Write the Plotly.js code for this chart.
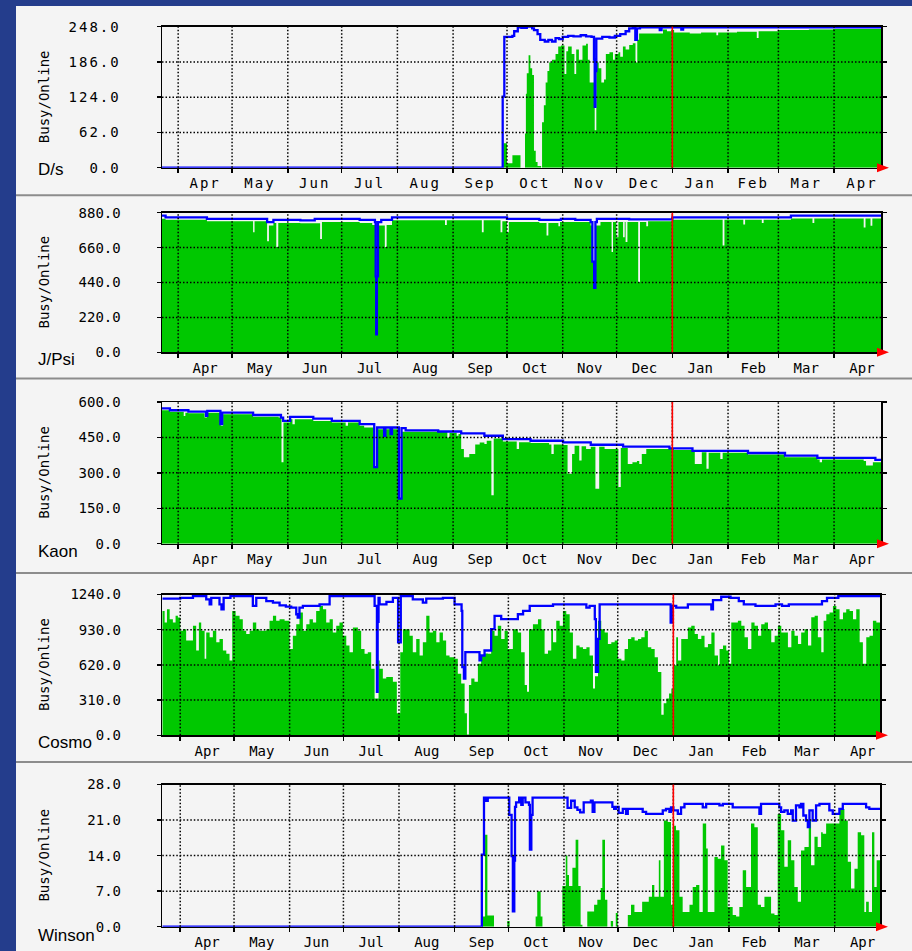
<!DOCTYPE html>
<html>
<head>
<meta charset="utf-8">
<script src="https://cdn.plot.ly/plotly-3.0.1.min.js"></script>
<style>
html,body{margin:0;padding:0;background:#243d8c;}
#chart{width:912px;height:951px;}
.xtick text,.ytick text{letter-spacing:2px;}
</style>
</head>
<body>
<div id="chart"></div>
<script>
// ---- data: day offsets from 2010-03-23 ----
const dsBusyDays = [0,190,192,195,199.5,202,202.5,203,204,205,206,207,208,209,211,211.5,212.5,213.5,214.5,215.5,217,219,220.5,222,224,225,226,228,229.5,230.5,232,234,236,237,238,240.8,241.7,243,244.5,246,247,249,251,252,254,255,256.5,258,260,262,263.5,264.5,265.5,278.8,281,283.6,285,293.7,300,308.5,309.5,320,331,332,342.8,360,373.4,400.8];
const dsBusyVals = [0,43,8,22,0,60,130,166,198,175,163,30,10,3,0,80,110,150,170,185,190,200,213,215,165,205,213,200,165,208,190,215,218,190,150,66,185,175,150,155,200,203,190,200,203,195,213,208,216,219,185,225,236,243,240,242,238,236,238,233,238,239,228,240,242,243,244,242];
const dsOnlineDays = [0,189.3,189.6,190.5,195,196,198,200,203,206,207,209,210.5,213,215,217,219,221,223,226,229,233,236,239,240.4,240.8,241.2,241.7,245,249,252,255,258,260,262,263.4,264.3,266,277,278,289,290,400.8];
const dsOnlineVals = [0,0,125,230,232,240,247,246,248,245,242,235,225,222,225,222,228,226,230,232,231,233,231,230,190,107,170,227,230,229,232,235,240,245,246,225,245,247,242,247,243,247,247];

const jpBusyDays = [0,2,25,50.7,51.5,58.5,59.5,62,63.6,64.7,77,88,89,110,117,118.9,119.2,119.6,120.2,124,125,128,157.5,158.5,178,179,188.4,189.4,192,193,210,214,215,220.6,221.5,238.5,239.5,240.5,241.2,244,250.2,251,252.8,254,256.6,257.5,258,259,265,266,269.5,270.5,284,312,313,323.5,324.5,333.8,334.8,350,362,363,390.5,391.5,394.3,395.3,400.8];
const jpBusyVals = [842,835,826,757,826,700,800,815,664,815,813,715,822,815,803,479,113,479,800,664,803,833,803,833,757,833,757,826,757,822,815,736,815,795,822,800,572,407,800,822,633,822,725,822,725,822,695,822,442,822,795,826,836,674,836,805,836,815,836,843,815,843,787,843,798,843,843];
const jpOnlineDays = [0,2,25,58.5,62,77,85,110,118.5,118.9,119.2,119.6,120.2,122,128,192,210,222,230,238.5,239.5,240.5,241.2,242,260,284,347,350,400.8];
const jpOnlineVals = [861,851,841,820,835,831,841,835,820,479,113,479,820,835,851,841,835,841,835,820,572,407,820,841,838,851,851,861,861];

const kaBusyDays = [0,4.4,12.1,13,14.7,23.7,25,32.7,34,50.7,64.9,66.5,67.6,71.3,72.6,73.9,84.2,94.5,102.2,103.5,110,112.5,118.1,119.7,123.6,124.3,127.2,128,131.8,133.3,158.8,160,164,165,166.5,168,171,174.3,176.8,179.4,180.7,183.3,184.6,189.7,197.4,198.7,205.1,215.4,216.7,218,223.2,225.7,228.2,229.6,232.2,233.5,236,238.6,241.2,243.3,246.3,254,255.3,259.2,261.8,264.3,265.6,267,269.5,284.9,296.5,300.4,303,304.2,310.7,312,326.1,346.7,364.7,366,367.3,390.5,391.8,395.6,400.8];
const kaBusyVals = [565,559,541,555,552,534,555,499,548,538,534,345,513,527,506,527,520,513,499,513,499,492,324,485,457,485,460,485,191,474,450,470,457,465,401,366,380,420,429,422,436,205,445,433,401,430,426,420,380,420,418,296,380,415,352,413,401,410,233,410,401,240,405,338,345,350,338,380,401,397,338,387,317,385,359,385,378,366,356,345,356,350,331,345,345];
const kaOnlineDays = [0,4.4,14.7,24.5,25.2,32.5,33.5,50.7,66.2,67.4,71.3,84.2,94.5,110,117.6,118.1,119.7,122.8,123.6,124.3,127.2,128,131.8,133.3,135.6,153.7,166.5,179.4,189.7,205.1,223.2,238.6,256.6,282.4,295.2,326.1,346.7,364.7,397,400.8];
const kaOnlineVals = [573,565,559,541,562,506,555,545,534,520,537,530,520,506,506,324,492,492,457,492,464,492,191,489,480,475,467,457,443,436,429,419,411,404,393,384,373,363,355,355];

const coBusyDays = [-1,0.3,1.6,3.1,4.9,6.4,7.7,9,10.5,12.3,16.1,17.9,19.4,20.7,22.6,23.5,25.4,27.2,29.1,30.9,32.8,34.7,36.5,38,39.9,42.1,43.9,45.8,47.7,49.5,51.4,53.2,57,58.8,60.7,62.5,64.4,67.2,70,71.8,73.7,75.5,77.4,79.3,81.1,83,84.8,86.7,88.6,90.4,92.3,94.1,96,97.8,99.7,101.6,103.4,105.3,108.1,109.9,111.8,113.6,115.5,117.4,119.6,120.2,122,123.9,127.6,129.8,131.7,133.2,136.9,138.7,140.6,142.5,144.3,146.2,148,149.9,151.8,153.6,155.5,157.3,159.2,162,163.8,165.7,167.6,168.9,170,171.3,173.1,175,176.8,178.7,180.6,182.4,184.3,186.1,188,189.9,191.7,194.5,197.3,199.1,201.1,202.4,203.5,205.7,208.5,210.4,212.2,214.1,215.9,216.9,218.7,220.6,222.4,224.3,226.2,228,229.9,231.7,233.6,235.5,237.3,239.2,240.3,242,243.8,245.7,247.5,249.4,251.3,253.1,255,256.8,258.7,260.5,262.4,264.3,266.1,268,269.8,271.7,273.6,275.4,277.3,278.6,280.1,281.6,282.9,284.2,285.6,286.6,288.4,292.1,294,295.9,297.7,299.6,301.4,303.3,305.2,307,308.9,309.8,311.7,313.5,315,316.3,320,321.9,323.7,325.6,327.5,329.3,331.2,333,334.9,336.8,338.6,340.5,342.3,344.2,347.9,349.8,351.6,353.5,355.3,357.2,359.1,360.9,362.8,364.6,366.5,367.8,369.3,371.1,373,374.9,376.7,378.6,380.4,382.3,384.2,386,387.9,389.7,391.6,393.4,395.3,397.2,400.8];
const coBusyVals = [1095,993,1110,1023,993,1052,1037,921,935,834,964,747,993,921,674,906,863,921,819,848,747,718,659,1095,1052,1023,921,892,921,993,935,921,935,1008,1052,1008,1023,1008,761,877,979,1081,921,979,1023,993,1095,1139,1110,993,1023,906,964,993,877,790,732,950,921,761,718,732,587,325,659,587,500,514,471,195,732,935,877,732,848,703,819,1052,906,921,819,906,834,703,688,674,543,456,195,6,442,500,471,630,703,720,718,921,877,964,848,921,761,935,906,732,442,383,935,979,1023,935,718,747,935,819,1008,964,1095,1066,906,674,790,776,761,776,703,413,520,1008,935,906,805,819,834,674,659,761,848,863,834,848,863,921,776,761,688,558,180,282,325,369,413,616,863,659,848,950,964,892,848,877,776,805,906,703,616,761,790,747,630,993,1008,964,863,761,993,964,877,979,993,935,819,877,964,906,776,921,877,805,906,935,790,1040,1052,863,732,1008,1066,1081,1139,1110,1023,1081,1110,1095,1023,1110,819,630,863,877,1008,993,993];
const coOnlineDays = [-1,3,9,16.1,23.5,25.4,26.3,30.9,32,33.2,37,49.5,51.4,57,60.7,64.4,67.9,70.9,73.7,74.5,75.5,77.4,86.7,92.3,117.4,118.7,119.1,119.6,120.2,124,127.6,130.5,132,133.2,138.7,144.3,146.2,155.5,162,165.9,166.3,167.2,168,170.4,175.9,176.8,178.7,182.4,184.3,188,197.3,200.2,203.9,216.9,235.5,237.3,240.2,240.8,242,242.9,272.6,282.5,283.6,285.6,292.1,305.2,306.1,310.7,315.9,320.5,323.3,329.8,341,344.6,348.4,366.9,369.7,376,400.8];
const coOnlineVals = [1203,1203,1211,1226,1197,1153,1211,1153,1110,1211,1226,1139,1211,1182,1168,1145,1133,1124,1066,1037,1124,1139,1153,1226,1139,383,1000,1211,1153,1175,1211,819,1232,1226,1197,1168,1203,1211,1153,1095,601,500,732,732,659,703,747,935,1052,1023,1066,1095,1139,1153,1124,1139,1023,558,850,1153,1153,993,1139,1124,1153,1110,1191,1220,1211,1182,1153,1139,1153,1139,1153,1182,1211,1226,1226];

const wiBusyDays = [-1,177.5,179,180.3,184,191.4,192.7,207.2,208.1,210,211,222.1,224,224.9,225.8,227.7,229.5,231,232.3,233.3,236,239.8,241.6,243.5,244.4,245.9,247.2,249.1,250.4,251.9,253,258.6,260.4,262.3,266.6,270.3,272.1,273.4,275.9,276.8,278.7,280.9,282.7,284,285.5,287.4,289.2,293,294.8,296.7,298.5,300.4,302.3,303.2,306.9,308.8,310.6,312.5,314.3,317.1,319,320.8,322.7,324.6,327.3,329.2,331.1,332.9,334.8,338.5,340.4,342.2,344.1,345.9,347.8,349.7,351.5,353.4,355.2,357.1,359.5,360.8,362.7,364.5,366.4,367.3,369.2,376.6,379.4,381.3,383.1,385,386.8,388.7,390.5,391.5,393,394.8,396.1,397.4,400.8];
const wiBusyVals = [0,2,18.1,2.2,0,1.1,0,2,7,2,0,8,14,10.2,8,11.6,17.1,8,0.4,0,3,4.3,5.3,7.6,17.1,5.3,0,1.1,0,2.7,0,2.3,4.3,2.9,4.9,5.9,8.2,5.9,13.1,5.9,20.9,20.6,4.3,19.9,19,5.9,2.9,4.3,7.8,8.2,2.9,20.3,15.4,2.9,13.7,13.4,16,13.1,3.9,2.3,2,3.9,11.1,7.8,20.3,19.6,4.3,3.9,5.9,2.6,2.3,22.2,19,11.8,17,13.1,7.8,4.9,15,15.7,20.9,12.1,17.7,15.7,18.6,18.3,20.3,23.2,20.9,12.8,7.5,11.4,18.6,18,2.9,4.9,2.9,18.6,7.8,13.1,13.1];
const wiOnlineDays = [-1,176.8,177.2,178.4,179.6,180.5,191.8,192.5,193.8,194.5,195.3,195.7,196.3,198,199.2,200,201.5,203.5,204,204.8,205.5,224,225,227,229,230.5,232,234,238,239,240,248,250,251,252,253.5,255.8,257.6,258.6,266.9,268.8,278.1,279.9,281.8,282.7,284,286.5,288.3,290.2,300.4,302.3,309.7,311.6,317.1,332,332.9,343.1,344.1,345.9,347.8,349.7,350.6,352.4,354.3,355.2,356.5,358,359,359.9,361.7,363.6,365.5,371,372.9,376.6,378.5,391.5,393.3,400.8];
const wiOnlineVals = [0,0,14.2,25.4,24.8,25.4,25.4,22,13.9,3,13,23.6,24.5,25.4,24,25.4,24.5,24,15.2,22,25.4,25.4,23.4,24.8,23.5,23,22.5,24.5,24.8,22.6,24.5,24.5,23.6,23.2,23.6,22.4,23.2,22.2,23.2,22.6,22.2,22.9,23.2,22.6,23.5,22.9,22.2,23.5,24.2,23.5,24.2,23.9,24.2,23.5,22.2,24.2,23.5,22.6,22.9,22.2,22.9,20.9,23.9,23.5,24.2,21.9,20.9,19.6,22.9,20.9,23.9,24.2,22.9,22.2,23.2,24.2,23.5,23.2,23.2];

const panelNames = ['D/s','J/Psi','Kaon','Cosmo','Winson'];
const axisMax = [248, 880, 600, 1240, 28];
const yearMark = '2011-01-01';

// ---- helpers ----
const BASE = Date.UTC(2010, 2, 23);
function toDate(d){ return new Date(BASE + d*86400000).toISOString().slice(0,19).replace('T',' '); }
const W = 912, H = 951;

const series = [
  [dsBusyDays, dsBusyVals, dsOnlineDays, dsOnlineVals],
  [jpBusyDays, jpBusyVals, jpOnlineDays, jpOnlineVals],
  [kaBusyDays, kaBusyVals, kaOnlineDays, kaOnlineVals],
  [coBusyDays, coBusyVals, coOnlineDays, coOnlineVals],
  [wiBusyDays, wiBusyVals, wiOnlineDays, wiOnlineVals]
];
// layout geometry in pixels
const geo = [
  {top:26.7, zero:167.7, left:162, right:881, range:['2010-03-23 00:00','2011-04-27 03:00'], label:169},
  {top:212.7, zero:352.3, left:162, right:881, range:['2010-03-23 00:00','2011-04-27 03:00'], label:359},
  {top:402, zero:543.7, left:162, right:881, range:['2010-03-23 00:00','2011-04-27 03:00'], label:551},
  {top:594.5, zero:735.3, left:162.3, right:880, range:['2010-03-22 00:00','2011-04-26 06:00'], label:742},
  {top:784.5, zero:926.7, left:162.3, right:880, range:['2010-03-22 00:00','2011-04-26 06:00'], label:935}
];

const monthStarts = [];
for (let m = 0; m <= 12; m++) monthStarts.push(new Date(Date.UTC(2010, 3 + m, 1)).toISOString().slice(0,10));

const tickFont = {family:'DejaVu Sans Mono', size:14, color:'#000'};
const traces = [];
const shapes = [];
const annotations = [];
const layout = {
  width: W, height: H,
  margin: {l:0, r:0, t:0, b:0},
  paper_bgcolor: '#243d8c',
  plot_bgcolor: 'rgba(0,0,0,0)',
  showlegend: false
};

// panel background and separators
shapes.push({type:'rect', xref:'paper', yref:'paper', x0:16/W, x1:1, y0:0, y1:1-6/H, fillcolor:'#f4f4f4', line:{width:0}, layer:'below'});
[195.3, 378.5, 573, 762].forEach(py => {
  shapes.push({type:'line', xref:'paper', yref:'paper', x0:16/W, x1:1, y0:1-py/H, y1:1-py/H, line:{color:'#8c8c8c', width:2}, layer:'below'});
});

series.forEach((s, i) => {
  const n = i + 1;
  const xa = 'x' + (n === 1 ? '' : n);
  const ya = 'y' + (n === 1 ? '' : n);
  const g = geo[i];
  const max = axisMax[i];

  traces.push({type:'scatter', mode:'lines', x:s[0].map(toDate), y:s[1], xaxis:xa, yaxis:ya,
    line:{width:0, shape:'hv'}, fill:'tozeroy', fillcolor:'#00c800', hoverinfo:'skip'});
  traces.push({type:'scatter', mode:'lines', x:s[2].map(toDate), y:s[3], xaxis:xa, yaxis:ya,
    line:{width:2.3, shape:'hv', color:'#0000ff'}, hoverinfo:'skip'});

  layout['xaxis' + (n === 1 ? '' : n)] = {
    type:'date', domain:[g.left/W, g.right/W], range:g.range, anchor:ya,
    tickformat:'%b', dtick:'M1', tick0:'2010-01-01', ticklabelmode:'period',
    ticks:'outside', ticklen:4, tickwidth:1.5, tickcolor:'#000',
    showline:true, linecolor:'#000', linewidth:1.5, mirror:true,
    showgrid:false, zeroline:false, tickfont:tickFont, ticklabelstandoff:-2, fixedrange:true
  };
  layout['yaxis' + (n === 1 ? '' : n)] = {
    domain:[1 - g.zero/H, 1 - g.top/H], range:[0, max], anchor:xa,
    tickvals:[0, max/4, max/2, 3*max/4, max], tickformat:'.1f',
    ticks:'outside', ticklen:4, tickwidth:1.5, tickcolor:'#000',
    showline:true, linecolor:'#000', linewidth:1.5, mirror:'ticks',
    showgrid:false, zeroline:false, tickfont:tickFont, ticklabelstandoff:33, fixedrange:true
  };

  const dot = {color:'#000', width:1.5, dash:'1.5px,2px'};
  for (let k = 1; k <= 3; k++) {
    shapes.push({type:'line', xref:xa + ' domain', yref:ya, x0:0, x1:1, y0:max*k/4, y1:max*k/4, line:dot, layer:'above'});
  }
  monthStarts.forEach(d => {
    shapes.push({type:'line', xref:xa, yref:ya + ' domain', x0:d, x1:d, y0:0, y1:1, line:dot, layer:'above'});
  });
  shapes.push({type:'line', xref:xa, yref:ya + ' domain', x0:yearMark, x1:yearMark, y0:0, y1:1,
    line:{color:'#ff0000', width:1.6}, layer:'above'});
  // red arrow at the end of the time axis
  const ax0 = (g.right - 4)/W, ax1 = (g.right + 8)/W;
  const yc = 1 - g.zero/H, dh = 4.5/H;
  shapes.push({type:'path', xref:'paper', yref:'paper',
    path:`M ${ax0},${yc+dh} L ${ax1},${yc} L ${ax0},${yc-dh} Z`,
    fillcolor:'#ff0000', line:{width:0}, layer:'above'});

  annotations.push({xref:'paper', yref:'paper', x:44/W, y:1 - (g.top + g.zero)/2/H, text:'Busy/Online',
    textangle:-90, showarrow:false, xanchor:'center', yanchor:'middle', font:{family:'DejaVu Sans Mono', size:14, color:'#000'}});
  annotations.push({xref:'paper', yref:'paper', x:36/W, y:1 - g.label/H, text:panelNames[i],
    showarrow:false, xanchor:'left', yanchor:'middle', font:{family:'Liberation Sans', size:17, color:'#000'}});
});

layout.shapes = shapes;
layout.annotations = annotations;
Plotly.newPlot('chart', traces, layout, {displayModeBar:false, staticPlot:true});
</script>
</body>
</html>
